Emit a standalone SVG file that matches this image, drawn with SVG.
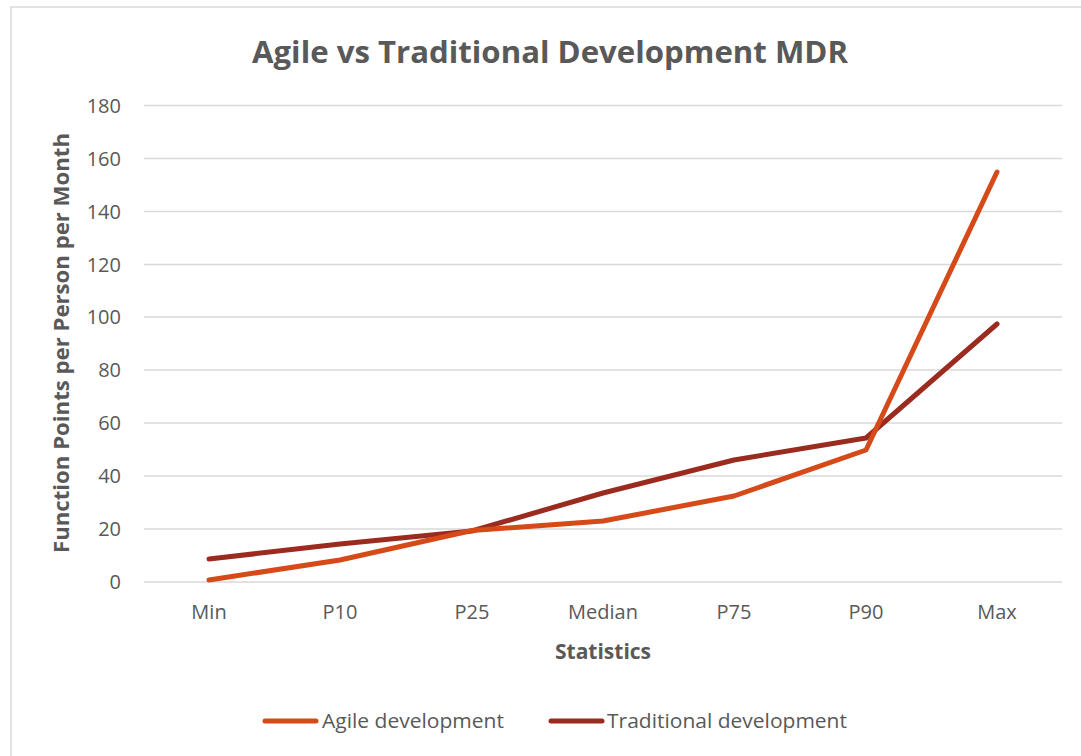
<svg xmlns="http://www.w3.org/2000/svg" width="1081" height="756" viewBox="0 0 1081 756">
  <style>
    .txt { font-family: "Open Sans", "Liberation Sans", sans-serif; fill: #595959; }
    .tick { font-size: 20px; }
    .ytick { text-anchor: end; }
    .xtick { text-anchor: middle; }
    .title { font-size: 30px; font-weight: bold; text-anchor: middle; }
    .axis-title { font-size: 21px; font-weight: bold; text-anchor: middle; }
    .legend { font-size: 20px; }
    .grid line { stroke: #d9d9d9; stroke-width: 1.5; }
    .series { fill: none; stroke-width: 5; stroke-linecap: round; stroke-linejoin: round; }
    .agile { stroke: #d54a18; }
    .trad { stroke: #9c2b1f; }
  </style>

  <!-- chart area -->
  <rect x="0" y="0" width="1081" height="756" fill="#ffffff"/>
  <rect id="chart-frame" x="11" y="7" width="1100" height="800" fill="none" stroke="#d9d9d9" stroke-width="1.5"/>

  <text id="chart-title" class="txt title" x="550" y="63" textLength="596" lengthAdjust="spacingAndGlyphs">Agile vs Traditional Development MDR</text>

  <!-- horizontal gridlines, 0 to 180 step 20 -->
  <g id="gridlines" class="grid">
    <line x1="144" y1="582" x2="1062" y2="582"/>
    <line x1="144" y1="529" x2="1062" y2="529"/>
    <line x1="144" y1="476" x2="1062" y2="476"/>
    <line x1="144" y1="423" x2="1062" y2="423"/>
    <line x1="144" y1="370" x2="1062" y2="370"/>
    <line x1="144" y1="317" x2="1062" y2="317"/>
    <line x1="144" y1="264.5" x2="1062" y2="264.5"/>
    <line x1="144" y1="211.5" x2="1062" y2="211.5"/>
    <line x1="144" y1="158.5" x2="1062" y2="158.5"/>
    <line x1="144" y1="105.5" x2="1062" y2="105.5"/>
  </g>

  <g id="y-axis" class="txt tick ytick">
    <text x="121" y="589">0</text>
    <text x="121" y="536">20</text>
    <text x="121" y="483">40</text>
    <text x="121" y="430">60</text>
    <text x="121" y="377">80</text>
    <text x="121" y="324">100</text>
    <text x="121" y="271.5">120</text>
    <text x="121" y="218.5">140</text>
    <text x="121" y="165.5">160</text>
    <text x="121" y="112.5">180</text>
  </g>
  <text id="y-axis-title" class="txt axis-title" transform="translate(69,343) rotate(-90)" x="0" y="0" textLength="420" lengthAdjust="spacingAndGlyphs">Function Points per Person per Month</text>

  <g id="x-axis" class="txt tick xtick">
    <text x="209" y="619">Min</text>
    <text x="340" y="619">P10</text>
    <text x="472" y="619">P25</text>
    <text x="603" y="619">Median</text>
    <text x="734" y="619">P75</text>
    <text x="866" y="619">P90</text>
    <text x="997" y="619">Max</text>
  </g>
  <text id="x-axis-title" class="txt axis-title" x="603" y="659">Statistics</text>

  <!-- data series -->
  <g id="series">
    <polyline id="series-traditional" class="series trad" points="209,559 340,544 472,531 603,493 734,460 866,438 997,324"/>
    <polyline id="series-agile" class="series agile" points="209,580 340,560 472,530.5 603,521 734,496 866,450 997,172"/>
  </g>

  <g id="legend">
    <g id="legend-agile">
      <line class="series agile" x1="265" y1="721" x2="316" y2="721"/>
      <text class="txt legend" x="322" y="728" textLength="182" lengthAdjust="spacingAndGlyphs">Agile development</text>
    </g>
    <g id="legend-traditional">
      <line class="series trad" x1="551" y1="721" x2="602" y2="721"/>
      <text class="txt legend" x="607" y="728" textLength="240" lengthAdjust="spacingAndGlyphs">Traditional development</text>
    </g>
  </g>
</svg>
